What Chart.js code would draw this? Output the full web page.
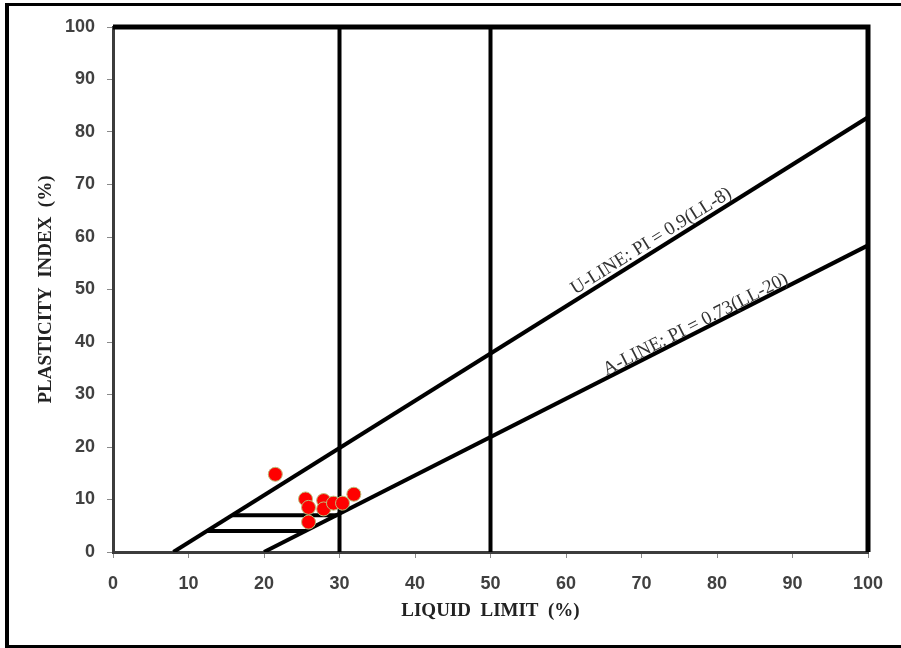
<!DOCTYPE html>
<html><head><meta charset="utf-8">
<script src="https://cdn.jsdelivr.net/npm/chart.js@4/dist/chart.umd.min.js"></script>
<style>html,body{margin:0;padding:0;background:#fff;overflow:hidden}#wrap{width:901px;height:648px}</style>
</head><body><div id="wrap"><canvas id="c" width="901" height="648"></canvas></div>
<script>
// Sample points
const liquidLimit     = [21.5, 25.5, 25.9, 25.9, 27.9, 27.9, 29.2, 30.4, 31.9];
const plasticityIndex = [14.8, 10.1,  8.5,  5.7,  9.8,  8.2,  9.3,  9.3, 11.0];

// Chart reference lines
const uLineLL = [8, 100];   const uLinePI = [0, 82.8];
const aLineLL = [20, 100];  const aLinePI = [0, 58.4];
const boundaryLL = [30, 50];           // vertical lines
const bandPI = [7, 4];                 // horizontal CL-ML band lines
const bandStartLL = [15.8, 12.4];
const bandEndLL   = [29.6, 25.5];

const xTicks = [0,10,20,30,40,50,60,70,80,90,100];
const yTicks = [0,10,20,30,40,50,60,70,80,90,100];

const uLabel = 'U-LINE: PI = 0.9(LL-8)';
const aLabel = 'A-LINE: PI = 0.73(LL-20)';
const xTitle = 'LIQUID  LIMIT  (%)';
const yTitle = 'PLASTICITY  INDEX  (%)';

const pts = (xs, ys) => xs.map((x, i) => ({x, y: ys[i]}));
const lineDs = (data) => ({type:'scatter', data, showLine:true, borderColor:'#000', borderWidth:4,
  pointRadius:0, pointHoverRadius:0, fill:false, borderCapStyle:'butt'});

const datasets = [
  {type:'scatter', data: pts(liquidLimit, plasticityIndex), pointRadius:7, pointHoverRadius:7,
   backgroundColor:'#ff0000', borderColor:'#bdbd78', borderWidth:1, showLine:false},
  lineDs(pts(uLineLL, uLinePI)),
  lineDs(pts(aLineLL, aLinePI)),
  ...boundaryLL.map(v => lineDs([{x:v, y:0},{x:v, y:100}])),
  ...bandPI.map((p, i) => lineDs([{x:bandStartLL[i], y:p},{x:bandEndLL[i], y:p}]))
];

const framePlugin = {
  id:'frame',
  beforeDraw(chart){
    const c = chart.ctx;
    c.save();
    c.fillStyle = '#fff'; c.fillRect(0,0,chart.width,chart.height);
    c.strokeStyle = '#000';
    c.lineWidth = 4; c.beginPath(); c.moveTo(7, 3); c.lineTo(7, 648); c.stroke();
    c.lineWidth = 3; c.beginPath(); c.moveTo(5, 4.5); c.lineTo(901, 4.5); c.stroke();
    c.lineWidth = 3; c.beginPath(); c.moveTo(5, 646.5); c.lineTo(901, 646.5); c.stroke();
    c.restore();
  },
  afterDatasetsDraw(chart){
    const c = chart.ctx, a = chart.chartArea;
    c.save();
    c.strokeStyle = '#000'; c.lineWidth = 5;
    c.beginPath(); c.moveTo(a.left, a.top); c.lineTo(a.right, a.top); c.lineTo(a.right, a.bottom); c.stroke();
    // line labels
    const xs = chart.scales.x, ys = chart.scales.y;
    const drawLbl = (text, lls, pis, at, off) => {
      const x0 = xs.getPixelForValue(lls[0]), y0 = ys.getPixelForValue(pis[0]);
      const x1 = xs.getPixelForValue(lls[1]), y1 = ys.getPixelForValue(pis[1]);
      const ang = Math.atan2(y1 - y0, x1 - x0);
      const t = (at - lls[0]) / (lls[1] - lls[0]);
      const px = x0 + (x1 - x0) * t, py = y0 + (y1 - y0) * t;
      c.save();
      c.translate(px, py); c.rotate(ang);
      c.font = '19px "Liberation Serif", "Times New Roman", serif';
      c.fillStyle = '#333'; c.textAlign = 'center'; c.textBaseline = 'alphabetic';
      c.fillText(text, 0, -off);
      c.restore();
    };
    drawLbl(uLabel, uLineLL, uLinePI, 72, 5);
    drawLbl(aLabel, aLineLL, aLinePI, 77.6, 2.5);
    c.restore();
  }
};

const tickFont = {family:'"Liberation Sans", Arial, sans-serif', size:18, weight:'bold'};
const titleFont = {family:'"Liberation Serif", "Times New Roman", serif', size:19, weight:'bold'};

new Chart(document.getElementById('c'), {
  type:'scatter',
  data:{datasets},
  options:{
    responsive:false, devicePixelRatio:1, animation:false,
    layout:{padding:{top:27, right:33, left:0, bottom:0}},
    plugins:{legend:{display:false}, tooltip:{enabled:false}},
    scales:{
      x:{type:'linear', min:0, max:100,
         afterBuildTicks(s){ s.ticks = xTicks.map(v => ({value:v})); },
         afterFit(s){ s.height = 96; },
         ticks:{font:tickFont, color:'#404040', padding:15},
         grid:{drawOnChartArea:false, drawTicks:true, tickLength:6, color:'#8a8a8a', lineWidth:1},
         border:{color:'#3c3c3c', width:3},
         title:{display:true, text:xTitle, font:titleFont, color:'#222', padding:{top:0, bottom:26}}},
      y:{type:'linear', min:0, max:100,
         afterBuildTicks(s){ s.ticks = yTicks.map(v => ({value:v})); },
         afterFit(s){ s.width = 113; },
         ticks:{font:tickFont, color:'#404040', padding:12},
         grid:{drawOnChartArea:false, drawTicks:true, tickLength:6, color:'#8a8a8a', lineWidth:1},
         border:{color:'#3c3c3c', width:3},
         title:{display:true, text:yTitle, font:titleFont, color:'#222', padding:{top:35, bottom:0}}}
    }
  },
  plugins:[framePlugin]
});
</script></body></html>
